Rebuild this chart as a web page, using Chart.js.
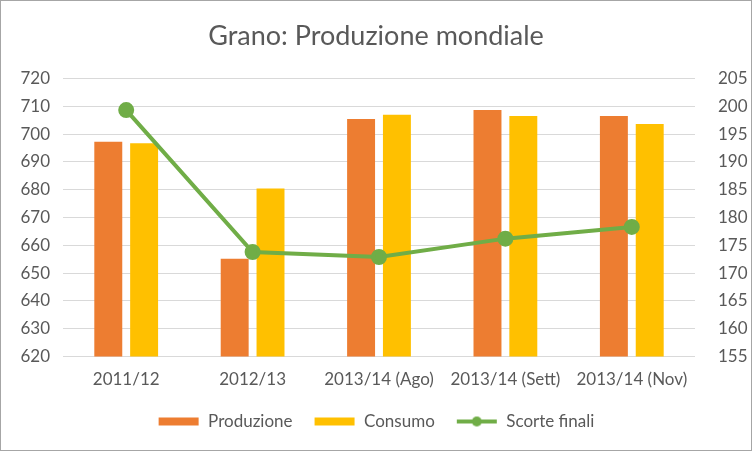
<!DOCTYPE html>
<html>
<head>
<meta charset="utf-8">
<script src="https://cdn.jsdelivr.net/npm/chart.js@4"></script>
<style>
  html, body { margin: 0; padding: 0; background: #fff; }
  #wrap { width: 750px; height: 449px; border: 1px solid #a6a6a6; position: relative; }
</style>
</head>
<body>
<div id="wrap"><canvas id="c" width="750" height="449"></canvas></div>
<script>
const categories = ['2011/12', '2012/13', '2013/14 (Ago)', '2013/14 (Sett)', '2013/14 (Nov)'];
const produzione = [697.2, 655.2, 705.4, 708.6, 706.5];
const consumo = [696.7, 680.4, 706.9, 706.5, 703.6];
const scorteFinali = [199.3, 173.8, 172.9, 176.2, 178.3];
const leftTicks = [620, 720, 10];
const rightTicks = [155, 205, 5];

const FONT = 'Lato, "Open Sans", sans-serif';
const TEXT = '#595959';

function marker(kind, color) {
  const m = document.createElement('canvas');
  m.width = 42; m.height = 12;
  const g = m.getContext('2d');
  if (kind === 'bar') {
    g.fillStyle = color;
    g.fillRect(1, 2, 40, 8);
  } else {
    g.strokeStyle = color; g.lineWidth = 4;
    g.beginPath(); g.moveTo(1, 6); g.lineTo(41, 6); g.stroke();
    g.fillStyle = color;
    g.beginPath(); g.arc(21, 6, 5, 0, Math.PI * 2); g.fill();
  }
  return m;
}

const ctx = document.getElementById('c').getContext('2d');
new Chart(ctx, {
  data: {
    labels: categories,
    datasets: [
      { type: 'line', label: 'Scorte finali', data: scorteFinali, yAxisID: 'y1',
        borderColor: '#70AD47', backgroundColor: '#70AD47', borderWidth: 4,
        pointRadius: 6, pointHoverRadius: 6, tension: 0, order: 0,
        pointStyle: 'circle', legendMarker: marker('line', '#70AD47') },
      { type: 'bar', label: 'Produzione', data: produzione, yAxisID: 'y',
        backgroundColor: '#ED7D31', barPercentage: 0.78, categoryPercentage: 0.567, order: 1,
        legendMarker: marker('bar', '#ED7D31') },
      { type: 'bar', label: 'Consumo', data: consumo, yAxisID: 'y',
        backgroundColor: '#FFC000', barPercentage: 0.78, categoryPercentage: 0.567, order: 1,
        legendMarker: marker('bar', '#FFC000') }
    ]
  },
  options: {
    responsive: false,
    animation: false,
    layout: { padding: { top: 0, bottom: 10, left: 0, right: 0 } },
    plugins: {
      title: {
        display: true, text: 'Grano: Produzione mondiale', color: TEXT,
        font: { family: FONT, size: 27, weight: 'normal' }, padding: { top: 19, bottom: 26 }
      },
      legend: {
        position: 'bottom',
        labels: {
          usePointStyle: true, pointStyleWidth: 42, color: TEXT, padding: 21,
          font: { family: FONT, size: 17 },
          generateLabels(chart) {
            const order = [1, 2, 0];
            return order.map(i => {
              const ds = chart.data.datasets[i];
              return { text: ds.label, pointStyle: ds.legendMarker, datasetIndex: i,
                       fontColor: TEXT, hidden: false, lineWidth: 0 };
            });
          }
        }
      },
      tooltip: { enabled: false }
    },
    scales: {
      x: {
        grid: { display: false, drawTicks: false },
        border: { display: false },
        ticks: { color: TEXT, font: { family: FONT, size: 17 }, padding: 13 },
        afterFit(s) { s.height = s.height - 11; }
      },
      y: {
        position: 'left', min: leftTicks[0], max: leftTicks[1],
        grid: { color: '#d9d9d9', drawTicks: false },
        border: { display: false },
        ticks: { stepSize: leftTicks[2], color: TEXT, font: { family: FONT, size: 17 }, padding: 13 },
        afterFit(s) { s.width = 62; }
      },
      y1: {
        position: 'right', min: rightTicks[0], max: rightTicks[1],
        grid: { display: false, drawTicks: false },
        border: { display: false },
        ticks: { stepSize: rightTicks[2], color: TEXT, font: { family: FONT, size: 17 }, padding: 23 },
        afterFit(s) { s.width = 56; }
      }
    }
  }
});
</script>
</body>
</html>
